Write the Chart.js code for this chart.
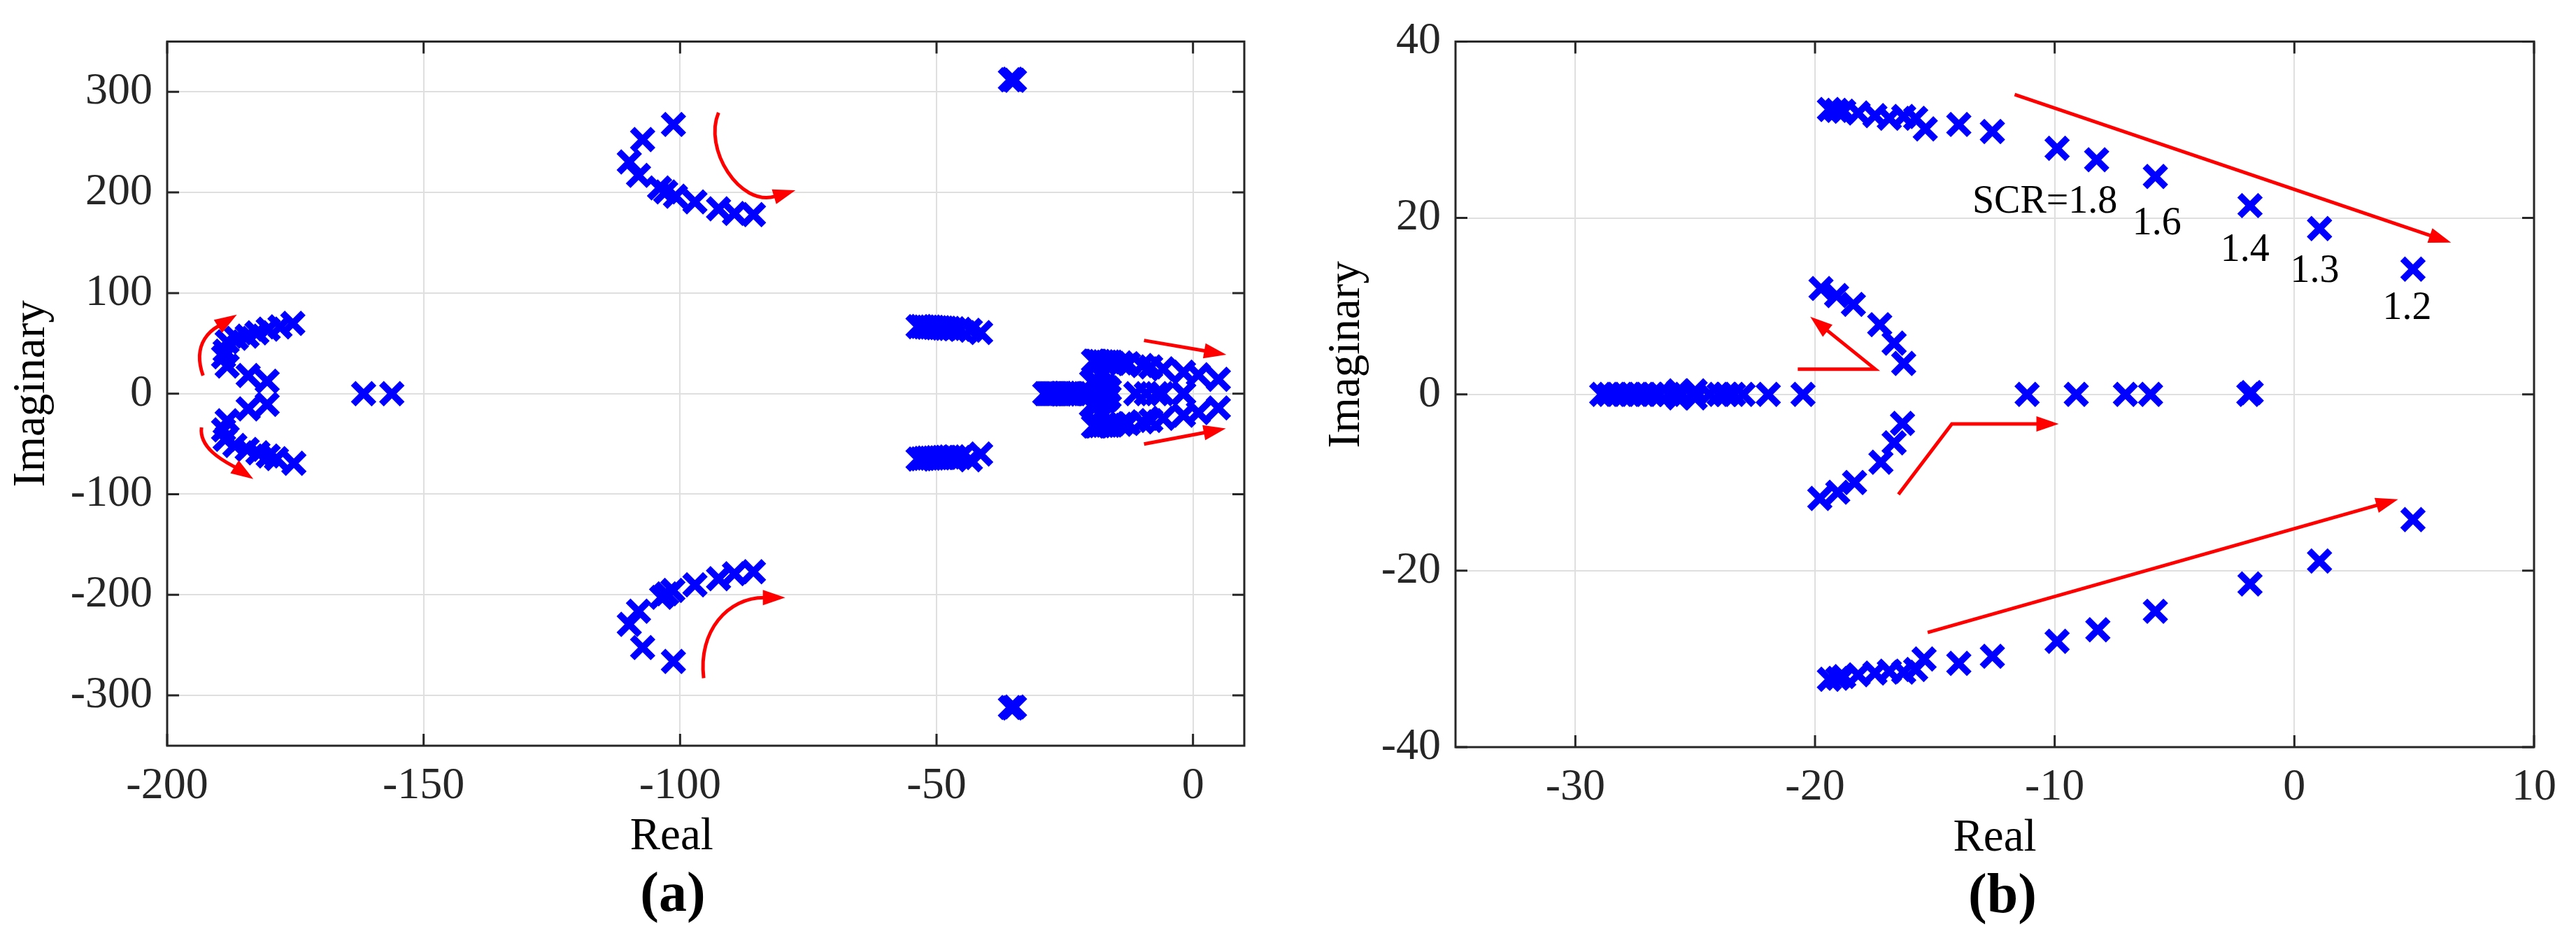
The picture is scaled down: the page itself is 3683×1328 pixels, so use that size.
<!DOCTYPE html>
<html>
<head>
<meta charset="utf-8">
<script src="https://cdn.jsdelivr.net/npm/chart.js@4.4.1/dist/chart.umd.min.js"></script>
<style>
  html, body { margin: 0; padding: 0; background: #fff; }
  body { width: 3683px; height: 1328px; position: relative; overflow: hidden; font-family: "Liberation Serif", "Times New Roman", serif; }
  .panel { position: absolute; top: 0; height: 1328px; }
  #wrapA { left: 0; width: 1840px; }
  #wrapB { left: 1840px; width: 1843px; }
  .cap { position: absolute; font-weight: bold; font-size: 80px; line-height: 1; transform: translate(-50%, -50%); color: #000; white-space: nowrap; }
</style>
</head>
<body>
<div class="panel" id="wrapA"><canvas id="chartA"></canvas></div>
<div class="panel" id="wrapB"><canvas id="chartB"></canvas></div>
<div class="cap" style="left:962px; top:1275px">(a)</div>
<div class="cap" style="left:2863px; top:1277px">(b)</div>
<script>
// ---- data ----
// tick values
const xTicksA = [-200, -150, -100, -50, 0];
const yTicksA = [-300, -200, -100, 0, 100, 200, 300];
const xTicksB = [-30, -20, -10, 0, 10];
const yTicksB = [-40, -20, 0, 20, 40];

// dominant group (panel b, also right-hand group in panel a)
const upperX = [-19.4, -19.1, -18.8, -18.2, -17.5, -16.9, -16.3, -15.8, -15.4, -14.0, -12.6, -9.9, -8.25, -5.8, -1.85, 1.05, 4.95];
const upperY = [32.3, 32.2, 32.1, 31.9, 31.6, 31.3, 31.5, 31.3, 30.1, 30.6, 29.8, 27.9, 26.6, 24.7, 21.4, 18.8, 14.2];
const lowerX = [-19.4, -19.05, -18.8, -18.2, -17.5, -16.9, -16.3, -15.8, -15.45, -14.0, -12.6, -9.9, -8.2, -5.8, -1.85, 1.05, 4.95];
const lowerY = [-32.3, -32.2, -32.0, -31.8, -31.6, -31.4, -31.5, -31.2, -30.0, -30.5, -29.7, -28.0, -26.7, -24.6, -21.5, -18.9, -14.2];
const innerUpX = [-19.75, -19.1, -18.4, -17.3, -16.7, -16.3];
const innerUpY = [12.0, 11.2, 10.2, 7.9, 5.8, 3.5];
const innerLoX = [-19.8, -19.05, -18.35, -17.25, -16.7, -16.35];
const innerLoY = [-11.8, -11.1, -10.0, -7.7, -5.5, -3.3];
const realX = [-28.9, -28.6, -28.3, -28.0, -27.7, -27.4, -27.1, -26.8, -26.5, -26.1, -25.7, -25.7, -25.0, -25.0, -24.4, -24.0, -23.7, -23.4, -23.0, -21.95, -20.5, -11.15, -9.1, -7.05, -6.0, -1.9, -1.8];
const realY = [0, 0, 0, 0, 0, 0, 0, 0, 0, 0, 0.4, -0.4, 0.4, -0.4, 0, 0, 0, 0, 0, 0, 0, 0, 0, 0, 0, 0, 0.2];

// other groups only visible in panel a
const farUpX = [-175.5, -178.0, -180.3, -182.5, -184.4, -186.5, -188.3, -188.7, -189.0, -188.3, -184.2, -180.5];
const farUpY = [69.9, 66.4, 64.1, 60.5, 57.2, 55.0, 51.5, 42.3, 36.6, 27.4, 18.1, 12.4];
const farLoX = [-180.5, -184.2, -188.3, -189.0, -188.7, -186.8, -184.4, -182.3, -180.3, -178.7, -175.3];
const farLoY = [-10.6, -15.2, -27.0, -36.0, -45.5, -51.5, -55.4, -58.8, -62.0, -64.6, -69.2];
const farRealX = [-161.7, -156.2];
const farRealY = [0, 0];
const midUpX = [-101.3, -107.3, -109.9, -108.1, -104.0, -102.8, -100.9, -97.1, -92.5, -89.4, -85.7];
const midUpY = [267.6, 252.6, 230.3, 217.0, 204.5, 200.5, 196.3, 190.6, 183.7, 179.1, 178.0];
const midLoX = [-101.3, -107.3, -109.9, -108.1, -103.6, -102.6, -101.4, -97.1, -92.5, -89.4, -85.7];
const midLoY = [-266.2, -252.4, -229.4, -216.3, -202.5, -199.0, -195.6, -190.0, -184.0, -179.0, -177.0];
const nearUpX = [-53.6, -53.0, -52.4, -51.8, -51.2, -50.6, -50.0, -49.4, -48.8, -48.2, -47.5, -46.6, -45.4, -43.4, -41.4];
const nearUpY = [66.6, 66.8, 66.3, 66.0, 66.2, 65.8, 65.5, 65.6, 65.2, 65.0, 64.8, 64.5, 64.0, 63.0, 60.7];
const nearLoX = [-53.6, -53.0, -52.4, -51.8, -51.2, -50.6, -50.0, -49.4, -48.8, -48.2, -47.5, -46.6, -45.4, -43.4, -41.4];
const nearLoY = [-65.0, -64.8, -64.4, -64.0, -64.2, -64.0, -63.7, -63.8, -63.5, -63.3, -63.0, -62.8, -63.5, -65.7, -60.0];
const topX = [-35.6, -35.2, -34.8];
const topY = [312.0, 312.5, 311.5];
const botX = [-35.6, -35.2, -34.8];
const botY = [-312.0, -312.5, -311.5];

// SCR labels in panel b
const scrText = ["SCR=1.8", "1.6", "1.4", "1.3", "1.2"];
const scrX = [-10.41, -5.74, -2.06, 0.85, 4.70];
const scrY = [22.1, 19.6, 16.6, 14.2, 10.0];

// red arrows (data coordinates, last point is the tip)
const arrowsA = [
  { curve: [[-193.0, 17.9], [-195.5, 53.8], [-190.3, 66.2], [-186.4, 78.6]] },
  { curve: [[-193.3, -33.6], [-193.9, -56.6], [-187.6, -70.3], [-183.2, -84.8]] },
  { curve: [[-92.5, 279.3], [-95.5, 243.4], [-88.4, 185.5], [-77.5, 202.1]] },
  { curve: [[-95.4, -282.8], [-96.5, -235.9], [-90.7, -202.8], [-79.5, -202.8]] },
  { line: [[-9.55, 52.9], [6.5, 38.8]] },
  { line: [[-9.55, -50.1], [6.4, -34.7]] }
];
const arrowsB = [
  { line: [[-11.67, 34.0], [6.54, 17.2]] },
  { line: [[-15.3, -27.0], [4.33, -11.9]] },
  { line: [[-20.72, 2.86], [-17.49, 2.86], [-20.2, 8.8]] },
  { line: [[-16.52, -11.35], [-14.29, -3.36], [-9.83, -3.36]] }
];

// ---- helpers ----
const FONT = "'Liberation Serif', 'Times New Roman', serif";
const BLUE = "#0000ff";
const NB = "\u00a0";

function pts(xs, ys) {
  return xs.map((x, i) => ({ x: x, y: ys[i] }));
}

function series(xs, ys) {
  return {
    data: pts(xs, ys),
    showLine: false,
    pointStyle: "crossRot",
    pointRadius: 21,
    pointHoverRadius: 21,
    pointBorderWidth: 9.5,
    pointBorderColor: BLUE,
    pointBackgroundColor: BLUE,
    borderColor: BLUE
  };
}

function toPx(chart, p) {
  return { x: chart.scales.x.getPixelForValue(p[0]), y: chart.scales.y.getPixelForValue(p[1]) };
}

function head(ctx, tip, dx, dy) {
  const len = 32, half = 11;
  ctx.beginPath();
  ctx.moveTo(tip.x, tip.y);
  ctx.lineTo(tip.x - len * dx - half * dy, tip.y - len * dy + half * dx);
  ctx.lineTo(tip.x - len * dx + half * dy, tip.y - len * dy - half * dx);
  ctx.closePath();
  ctx.fill();
}

function unit(a, b) {
  const dx = b.x - a.x, dy = b.y - a.y;
  const l = Math.hypot(dx, dy) || 1;
  return [dx / l, dy / l];
}

function annotations(arrows, texts) {
  return {
    id: "annot",
    afterDatasetsDraw(chart) {
      const ctx = chart.ctx;
      ctx.save();
      ctx.strokeStyle = "#ff0000";
      ctx.fillStyle = "#ff0000";
      ctx.lineWidth = 5;
      ctx.lineJoin = "miter";
      arrows.forEach(a => {
        if (a.curve) {
          const p = a.curve.map(q => toPx(chart, q));
          const [dx, dy] = unit(p[2], p[3]);
          const base = { x: p[3].x - 30 * dx, y: p[3].y - 30 * dy };
          ctx.beginPath();
          ctx.moveTo(p[0].x, p[0].y);
          ctx.bezierCurveTo(p[1].x, p[1].y, p[2].x, p[2].y, base.x, base.y);
          ctx.stroke();
          head(ctx, p[3], dx, dy);
        } else {
          const p = a.line.map(q => toPx(chart, q));
          const n = p.length;
          const [dx, dy] = unit(p[n - 2], p[n - 1]);
          ctx.beginPath();
          ctx.moveTo(p[0].x, p[0].y);
          for (let i = 1; i < n - 1; i++) ctx.lineTo(p[i].x, p[i].y);
          ctx.lineTo(p[n - 1].x - 30 * dx, p[n - 1].y - 30 * dy);
          ctx.stroke();
          head(ctx, p[n - 1], dx, dy);
        }
      });
      if (texts) {
        ctx.fillStyle = "#000";
        ctx.font = "56px " + FONT;
        ctx.textAlign = "center";
        ctx.textBaseline = "alphabetic";
        texts.text.forEach((t, i) => {
          const p = toPx(chart, [texts.x[i], texts.y[i]]);
          ctx.fillText(t, p.x, p.y + 18.5);
        });
      }
      ctx.restore();
    }
  };
}

// box around the axes with inward ticks on all four sides
const framePlugin = {
  id: "frame",
  afterDraw(chart) {
    const { ctx, chartArea: a, scales } = chart;
    const tl = 17;
    ctx.save();
    ctx.strokeStyle = "#262626";
    ctx.lineWidth = 3;
    ctx.beginPath();
    scales.x.ticks.forEach(t => {
      const px = scales.x.getPixelForValue(t.value);
      ctx.moveTo(px, a.bottom); ctx.lineTo(px, a.bottom - tl);
      ctx.moveTo(px, a.top); ctx.lineTo(px, a.top + tl);
    });
    scales.y.ticks.forEach(t => {
      const py = scales.y.getPixelForValue(t.value);
      ctx.moveTo(a.left, py); ctx.lineTo(a.left + tl, py);
      ctx.moveTo(a.right, py); ctx.lineTo(a.right - tl, py);
    });
    ctx.stroke();
    ctx.strokeRect(a.left, a.top, a.right - a.left, a.bottom - a.top);
    ctx.restore();
  }
};

function makeChart(id, cfg) {
  return new Chart(document.getElementById(id), {
    type: "scatter",
    data: { datasets: cfg.datasets },
    options: {
      responsive: true,
      maintainAspectRatio: false,
      animation: false,
      devicePixelRatio: 1,
      layout: { padding: cfg.padding },
      plugins: { legend: { display: false }, tooltip: { enabled: false }, title: { display: false } },
      scales: {
        x: {
          type: "linear",
          min: cfg.xMin, max: cfg.xMax,
          afterBuildTicks: s => { s.ticks = cfg.xTicks.map(v => ({ value: v })); },
          afterFit: s => { s.height = 170; },
          grid: { color: "#dfdfdf", lineWidth: 2, drawTicks: false },
          border: { display: false },
          ticks: { font: { family: FONT, size: 64 }, color: "#262626", padding: 20, maxRotation: 0 },
          title: { display: true, text: cfg.xTitle, font: { family: FONT, size: 65 }, color: "#000", padding: 0 }
        },
        y: {
          type: "linear",
          min: cfg.yMin, max: cfg.yMax,
          afterBuildTicks: s => { s.ticks = cfg.yTicks.map(v => ({ value: v })); },
          afterFit: s => { s.width = cfg.yWidth; },
          grid: { color: "#dfdfdf", lineWidth: 2, drawTicks: false },
          border: { display: false },
          ticks: { font: { family: FONT, size: 64 }, color: "#262626", padding: 21 },
          title: { display: true, text: cfg.yTitle, font: { family: FONT, size: 65 }, color: "#000", padding: { top: cfg.yTitlePad, bottom: 0 } }
        }
      }
    },
    plugins: [annotations(cfg.arrows, cfg.texts), framePlugin]
  });
}

const mainGroup = [
  series(upperX, upperY), series(lowerX, lowerY),
  series(innerUpX, innerUpY), series(innerLoX, innerLoY),
  series(realX, realY)
];

makeChart("chartA", {
  datasets: mainGroup.concat([
    series(farUpX, farUpY), series(farLoX, farLoY), series(farRealX, farRealY),
    series(midUpX, midUpY), series(midLoX, midLoY),
    series(nearUpX, nearUpY), series(nearLoX, nearLoY),
    series(topX, topY), series(botX, botY)
  ]),
  padding: { top: 51, right: 61, bottom: 92, left: 0 },
  xMin: -200, xMax: 10, yMin: -350, yMax: 350,
  xTicks: xTicksA, yTicks: yTicksA,
  yWidth: 239, yTitlePad: 7,
  xTitle: "Real" + NB.repeat(6), yTitle: "Imaginary",
  arrows: arrowsA, texts: null
});

makeChart("chartB", {
  datasets: [
    series(upperX, upperY), series(lowerX, lowerY),
    series(innerUpX, innerUpY), series(innerLoX, innerLoY),
    series(realX, realY)
  ],
  padding: { top: 51, right: 60, bottom: 90, left: 0 },
  xMin: -35, xMax: 10, yMin: -40, yMax: 40,
  xTicks: xTicksB, yTicks: yTicksB,
  yWidth: 241, yTitlePad: 47,
  xTitle: "Real", yTitle: NB.repeat(7) + "Imaginary",
  arrows: arrowsB, texts: { text: scrText, x: scrX, y: scrY }
});
</script>
</body>
</html>
